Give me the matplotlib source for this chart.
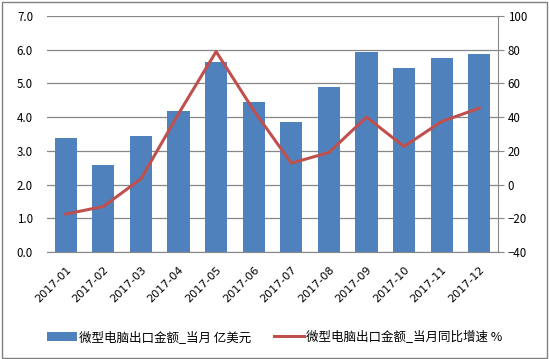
import matplotlib
matplotlib.use("Agg")
import matplotlib.pyplot as plt
from matplotlib.patches import Rectangle

plt.rcParams['font.family'] = ['Noto Sans CJK SC', 'DejaVu Sans']

months = ["2017-01", "2017-02", "2017-03", "2017-04", "2017-05", "2017-06",
          "2017-07", "2017-08", "2017-09", "2017-10", "2017-11", "2017-12"]
export_value = [3.39, 2.57, 3.45, 4.19, 5.65, 4.46, 3.87, 4.88, 5.94, 5.47, 5.74, 5.86]
yoy_growth = [-17.5, -13.0, 3.4, 42.0, 78.9, 44.0, 12.7, 19.0, 40.0, 22.6, 37.4, 45.3]

bar_label = "微型电脑出口金额_当月 亿美元"
line_label = "微型电脑出口金额_当月同比增速 %"

fig = plt.figure(figsize=(5.49, 3.59), dpi=100)
fig.patches.append(Rectangle((0.004, 0.004), 0.992, 0.99, transform=fig.transFigure,
                             fill=False, edgecolor="#808080", linewidth=1.0))
ax = fig.add_axes([47/549, 1-252/359, (498-47)/549, (252-16)/359])
x = list(range(len(months)))
ax.bar(x, export_value, width=0.59, color="#4F81BD", label=bar_label, zorder=2)
ax.set_ylim(0, 7)
ax.set_yticks([0, 1, 2, 3, 4, 5, 6, 7])
ax.set_yticklabels([f"{v:.1f}" for v in range(8)])
ax.set_xlim(-0.5, len(months) - 0.5)
ax.set_xticks(x)
ax.set_xticklabels(months, rotation=45, ha="right", rotation_mode="anchor", fontsize=8,
                   family="DejaVu Sans")
ax.grid(axis="y", color="#878787", linewidth=0.9, zorder=0)
for s in ["top", "left", "right"]:
    ax.spines[s].set_visible(False)
ax.spines["bottom"].set_color("#878787")
ax.tick_params(axis="y", length=0, labelsize=8.3, pad=10)
ax.tick_params(axis="x", length=0, pad=9)

ax2 = ax.twinx()
ax2.plot(x, yoy_growth, color="#C0504D", linewidth=2.2, label=line_label, zorder=3)
ax2.set_ylim(-40, 100)
ax2.set_yticks(range(-40, 101, 20))
for s in ["top", "left", "bottom"]:
    ax2.spines[s].set_visible(False)
ax2.spines["right"].set_color("#878787")
ax2.tick_params(axis="y", direction="out", length=4, color="#878787", labelsize=8.3, pad=3)

h1, l1 = ax.get_legend_handles_labels()
h2, l2 = ax2.get_legend_handles_labels()
fig.legend(h1 + h2, l1 + l2, loc="center", bbox_to_anchor=(0.5, 1-337/359), ncol=2,
           frameon=False, fontsize=9, handlelength=2.4, handleheight=0.7,
           columnspacing=1.8, handletextpad=0.2)
fig.savefig("out.png", dpi=100)
